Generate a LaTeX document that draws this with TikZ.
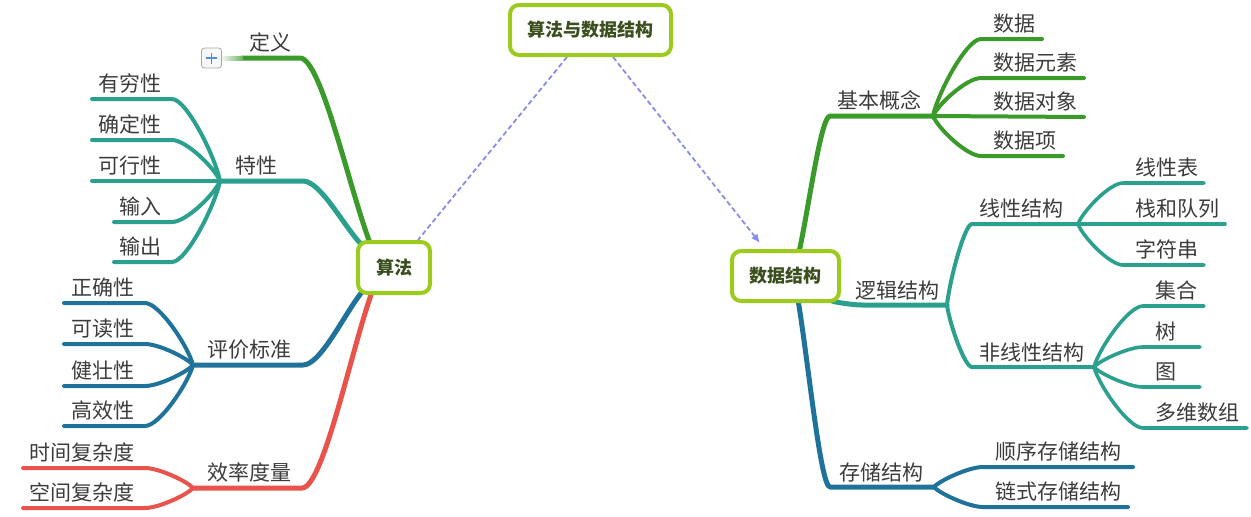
\documentclass[tikz,border=0pt]{standalone}
\usepackage{fontspec}
\newfontfamily\cjk{Noto Sans CJK SC}
\usetikzlibrary{arrows.meta,backgrounds,calc}
\definecolor{cgreen}{HTML}{3A9B2B}
\definecolor{cteal}{HTML}{2BA08F}
\definecolor{cblue}{HTML}{1F739B}
\definecolor{cred}{HTML}{E8534C}
\definecolor{clime}{HTML}{9CCB1E}
\definecolor{ctitle}{HTML}{3B4F1E}
\definecolor{cdash}{HTML}{8B8BE8}
\definecolor{ctext}{HTML}{3C3C3C}
\definecolor{cplus}{HTML}{4A90E2}
% root-level curve: start -> bend -> end
\newcommand\rlink[4]{\draw[#1] let \p1=(#2), \p2=(#3) in (\p1) .. controls (0.7*\x1+0.3*\x2, 0.7*\y1+0.3*\y2) and (0.3*\x1+0.7*\x2, \y2) .. (\p2) -- (#4);}
% sub-level curve: hub -> bend -> end
\newcommand\slink[4]{\draw[#1] let \p1=(#2), \p2=(#3) in (\p1) .. controls (0.9*\x1+0.1*\x2, 0.7*\y1+0.3*\y2) and (0.3*\x1+0.7*\x2, \y2) .. (\p2) -- (#4);}
\begin{document}
\begin{tikzpicture}[x=1pt,y=-1pt,
  br/.style={line width=5pt,line cap=round,line join=round},
  sb/.style={line width=4pt,line cap=round,line join=round},
  lf/.style={line width=3.6pt,line cap=round,line join=round},
  topic/.style={draw=clime,line width=4pt,fill=white,rounded corners=9pt,
    font=\cjk\bfseries\fontsize{18}{22}\selectfont,text=ctitle,inner sep=0pt},
  lbl/.style={font=\cjk\fontsize{21}{25}\selectfont,text=ctext,inner sep=0pt,anchor=base},
  lleaf/.style={lbl,anchor=base east},
  rleaf/.style={lbl,anchor=base west},
  rel/.style={cdash,line width=1.8pt,dash pattern=on 5pt off 3pt}
]
\useasboundingbox (0,0) rectangle (1251,517);

% ---------- central topics ----------
\node[topic,minimum width=161pt,minimum height=50pt] (R) at (590.5,30) {算法与数据结构};
\node[topic,minimum width=72pt,minimum height=51pt] (A) at (394,267.5) {算法};
\node[topic,minimum width=107pt,minimum height=50pt] (D) at (785.5,276) {数据结构};

% ---------- coordinates: left side ----------
\coordinate (a0) at (370,243);
\coordinate (d1) at (300,58);
\coordinate (d2) at (242,58);
\coordinate (s0) at (360,243);
\coordinate (t1) at (303,181);
\coordinate (tH) at (220,181);
\coordinate (t1L) at (172,99)  ; \coordinate (t1E) at (92,99);
\coordinate (t2L) at (172,140) ; \coordinate (t2E) at (92,140);
\coordinate (t3E) at (92,181);
\coordinate (t4L) at (172,222) ; \coordinate (t4E) at (114,222);
\coordinate (t5L) at (172,262) ; \coordinate (t5E) at (114,262);
\coordinate (e0) at (362,292);
\coordinate (e1) at (303,365);
\coordinate (eH) at (193,365);
\coordinate (e1L) at (145,303) ; \coordinate (e1E) at (64,303);
\coordinate (e2L) at (145,344) ; \coordinate (e2E) at (64,344);
\coordinate (e3L) at (145,386) ; \coordinate (e3E) at (64,386);
\coordinate (e4L) at (145,426) ; \coordinate (e4E) at (64,426);
\coordinate (m0) at (372,292);
\coordinate (m1) at (302,488);
\coordinate (mH) at (193,488);
\coordinate (m1L) at (145,468) ; \coordinate (m1E) at (23,468);
\coordinate (m2L) at (145,508) ; \coordinate (m2E) at (23,508);

% ---------- coordinates: right side ----------
\coordinate (b0) at (799,252);
\coordinate (b1) at (830,116);
\coordinate (bH) at (933,116);
\coordinate (b1L) at (981,39)  ; \coordinate (b1E) at (1042,39);
\coordinate (b2L) at (981,78)  ; \coordinate (b2E) at (1084,78);
\coordinate (b3E) at (1084,117);
\coordinate (b4L) at (981,156) ; \coordinate (b4E) at (1063,156);
\coordinate (l0) at (832,301);
\coordinate (l1) at (862,305);
\coordinate (lH) at (947,305);
\coordinate (x1) at (972,224);
\coordinate (xH) at (1078,224);
\coordinate (x1L) at (1123,183) ; \coordinate (x1E) at (1204,183);
\coordinate (x2E) at (1225,224);
\coordinate (x3L) at (1123,265) ; \coordinate (x3E) at (1204,265);
\coordinate (n1) at (972,367);
\coordinate (nH) at (1094,367);
\coordinate (n1L) at (1143,306) ; \coordinate (n1E) at (1204,306);
\coordinate (n2L) at (1143,347) ; \coordinate (n2E) at (1200,347);
\coordinate (n3L) at (1143,387) ; \coordinate (n3E) at (1200,387);
\coordinate (n4L) at (1143,428) ; \coordinate (n4E) at (1247,428);
\coordinate (c0) at (798,300);
\coordinate (c1) at (830,487);
\coordinate (cH) at (934,487);
\coordinate (c1L) at (983,467) ; \coordinate (c1E) at (1133,467);
\coordinate (c2L) at (983,507) ; \coordinate (c2E) at (1128,507);

\begin{pgfonlayer}{background}
% relationships
\draw[rel] ([xshift=-23.5pt]R.south) -- ([xshift=24pt]A.north);
\draw[rel,-{Latex[length=9pt,width=8pt]}] ([xshift=22.5pt]R.south) -- ([xshift=-25.5pt,yshift=6pt]D.north);

% 定义
\rlink{br,cgreen}{a0}{d1}{d2}
% 特性
\rlink{br,cteal}{s0}{t1}{tH}
\slink{sb,cteal}{tH}{t1L}{t1E}
\slink{sb,cteal}{tH}{t2L}{t2E}
\draw[sb,cteal] (tH) -- (t3E);
\slink{sb,cteal}{tH}{t4L}{t4E}
\slink{sb,cteal}{tH}{t5L}{t5E}
% 评价标准
\rlink{br,cblue}{e0}{e1}{eH}
\slink{sb,cblue}{eH}{e1L}{e1E}
\slink{sb,cblue}{eH}{e2L}{e2E}
\slink{sb,cblue}{eH}{e3L}{e3E}
\slink{sb,cblue}{eH}{e4L}{e4E}
% 效率度量
\rlink{br,cred}{m0}{m1}{mH}
\slink{sb,cred}{mH}{m1L}{m1E}
\slink{sb,cred}{mH}{m2L}{m2E}

% 基本概念
\rlink{br,cgreen}{b0}{b1}{bH}
\slink{sb,cgreen}{bH}{b1L}{b1E}
\slink{sb,cgreen}{bH}{b2L}{b2E}
\draw[sb,cgreen] (bH) -- (b3E);
\slink{sb,cgreen}{bH}{b4L}{b4E}
% 逻辑结构
\slink{br,cteal}{l0}{l1}{lH}
\slink{sb,cteal}{lH}{x1}{xH}
\slink{lf,cteal}{xH}{x1L}{x1E}
\draw[lf,cteal] (xH) -- (x2E);
\slink{lf,cteal}{xH}{x3L}{x3E}
\slink{sb,cteal}{lH}{n1}{nH}
\slink{lf,cteal}{nH}{n1L}{n1E}
\slink{lf,cteal}{nH}{n2L}{n2E}
\slink{lf,cteal}{nH}{n3L}{n3E}
\slink{lf,cteal}{nH}{n4L}{n4E}
% 存储结构
\rlink{br,cblue}{c0}{c1}{cH}
\slink{sb,cblue}{cH}{c1L}{c1E}
\slink{sb,cblue}{cH}{c2L}{c2E}
\end{pgfonlayer}

% collapse button of 定义
\shade[left color=cgreen!8,right color=cgreen!75] (222,56) rectangle (243,60);
\node[draw=black!35,fill=black!3,line width=0.8pt,rounded corners=3pt,
      minimum width=20pt,minimum height=20pt,inner sep=0pt] (plus) at (211.5,58) {};
\draw[cplus,line width=1.6pt] ([xshift=-5.5pt]plus.center) -- ([xshift=5.5pt]plus.center);
\draw[cplus,line width=1.6pt] ([yshift=-5.5pt]plus.center) -- ([yshift=5.5pt]plus.center);

% ---------- labels: left ----------
\node[lbl] (ldy) at (270,50) {定义};
\node[lbl] (ltx) at (256,173) {特性};
\node[lleaf] (lyq) at (162,91) {有穷性};
\node[lleaf] (lqd) at (162,132) {确定性};
\node[lleaf] (lkx) at (162,173) {可行性};
\node[lleaf] (lsr) at (162,214) {输入};
\node[lleaf] (lsc) at (162,254) {输出};
\node[lbl] (lpj) at (249,357) {评价标准};
\node[lleaf] (lzq) at (135,295) {正确性};
\node[lleaf] (lkd) at (135,336) {可读性};
\node[lleaf] (ljz) at (135,378) {健壮性};
\node[lleaf] (lgx) at (135,418) {高效性};
\node[lbl] (lxl) at (249,480) {效率度量};
\node[lleaf] (lsj) at (135,460) {时间复杂度};
\node[lleaf] (lkj) at (135,500) {空间复杂度};

% ---------- labels: right ----------
\node[lbl] (rjb) at (879.5,108) {基本概念};
\node[rleaf] (rsj) at (993,31) {数据};
\node[rleaf] (rys) at (993,70) {数据元素};
\node[rleaf] (rdx) at (993,109) {数据对象};
\node[rleaf] (rsx) at (993,148) {数据项};
\node[lbl] (rlj) at (897,298) {逻辑结构};
\node[lbl] (rxx) at (1021,216) {线性结构};
\node[rleaf] (rxb) at (1135,175) {线性表};
\node[rleaf] (rzd) at (1135,216) {栈和队列};
\node[rleaf] (rzf) at (1135,257) {字符串};
\node[lbl] (rfx) at (1031.5,360) {非线性结构};
\node[rleaf] (rjh) at (1155,298) {集合};
\node[rleaf] (rsh) at (1155,339) {树};
\node[rleaf] (rtu) at (1155,379) {图};
\node[rleaf] (rdw) at (1155,420) {多维数组};
\node[lbl] (rcc) at (881.5,480) {存储结构};
\node[rleaf] (rsx2) at (995,459) {顺序存储结构};
\node[rleaf] (rls) at (995,499) {链式存储结构};
\end{tikzpicture}
\end{document}
